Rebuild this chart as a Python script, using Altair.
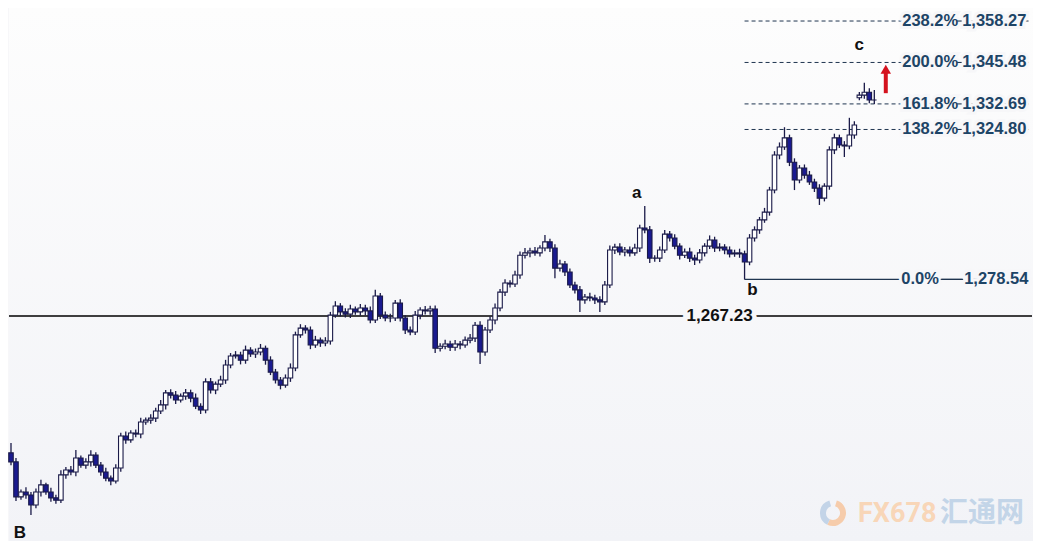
import altair as alt
import pandas as pd

# ---------------- data ----------------
closes = [
    1222.2, 1211.4, 1212.9, 1212.0, 1208.9, 1212.9, 1215.1, 1212.9, 1211.1, 1210.4,
    1218.2, 1219.7, 1219.1, 1223.4, 1221.2, 1222.2, 1224.3, 1221.2, 1219.1, 1217.2,
    1216.3, 1220.3, 1230.2, 1229.0, 1231.1, 1230.8, 1234.5, 1235.1, 1235.7, 1237.9,
    1239.8, 1243.5, 1242.8, 1241.3, 1242.5, 1243.5, 1241.9, 1239.4, 1238.2, 1246.9,
    1244.4, 1246.2, 1247.5, 1252.1, 1254.9, 1255.2, 1253.6, 1256.7, 1255.5, 1256.1,
    1257.3, 1253.6, 1249.9, 1247.5, 1245.9, 1248.1, 1251.2, 1261.4, 1263.5, 1262.9,
    1258.3, 1259.8, 1258.9, 1259.5, 1267.5, 1270.3, 1268.5, 1267.8, 1269.4, 1268.5,
    1269.7, 1268.8, 1266.0, 1273.4, 1267.5, 1266.6, 1266.6, 1271.2, 1266.6, 1262.9,
    1262.3, 1267.5, 1269.1, 1268.8, 1269.4, 1257.3, 1257.9, 1258.6, 1257.6, 1258.6,
    1258.3, 1259.8, 1260.4, 1264.4, 1256.1, 1262.9, 1266.0, 1269.7, 1274.6, 1277.4,
    1277.1, 1279.9, 1286.0, 1286.7, 1287.3, 1286.7, 1288.2, 1290.1, 1288.2, 1282.0,
    1283.3, 1280.8, 1276.8, 1275.3, 1272.2, 1273.1, 1272.8, 1272.2, 1271.6, 1276.8,
    1287.6, 1288.5, 1287.0, 1287.6, 1286.7, 1288.2, 1294.4, 1293.8, 1285.1, 1285.1,
    1287.6, 1292.5, 1291.3, 1288.8, 1286.0, 1287.0, 1285.1, 1284.5, 1286.7, 1288.8,
    1290.7, 1288.2, 1288.5, 1287.6, 1286.4, 1286.7, 1286.4, 1283.9, 1291.3, 1293.8,
    1296.9, 1299.3, 1306.1, 1316.9, 1319.4, 1322.2, 1314.7, 1309.2, 1312.9, 1310.7,
    1308.6, 1306.7, 1303.6, 1307.3, 1318.5, 1322.2, 1320.0, 1319.7, 1323.1, 1326.2,
    1335.4, 1336.3, 1333.9, 1333.9,
]
hi_ext = [
    3.0, 1.2, 0.8, 1.5, 0.9, 1.1, 1.6, 0.7, 1.3, 1.0,
    1.4, 0.9, 1.2, 2.5, 0.8, 1.1, 1.5, 0.9, 1.0, 1.3,
    0.8, 1.2, 1.0, 1.4, 0.9, 1.1, 1.3, 0.8, 1.2, 1.0,
    1.5, 0.9, 1.1, 1.3, 0.8, 1.2, 1.0, 1.4, 0.9, 1.1,
    1.2, 0.8, 1.3, 1.6, 0.9, 1.2, 1.0, 1.4, 0.9, 1.1,
    1.3, 0.8, 1.2, 1.0, 0.9, 1.1, 1.4, 1.0, 1.2, 0.9,
    1.1, 1.3, 0.8, 1.2, 1.0, 1.5, 0.9, 1.1, 1.3, 0.8,
    1.2, 1.0, 1.4, 1.9, 0.9, 1.1, 1.3, 1.0, 1.2, 0.9,
    1.1, 1.3, 0.8, 1.2, 1.0, 1.1, 0.9, 1.3, 1.0, 1.2,
    0.9, 1.1, 1.3, 1.0, 1.2, 0.9, 1.1, 1.4, 1.0, 1.2,
    0.9, 1.3, 1.1, 1.5, 1.0, 1.2, 0.9, 2.1, 1.0, 1.2,
    1.3, 0.9, 1.1, 1.0, 1.2, 0.9, 1.3, 1.0, 1.1, 1.2,
    1.4, 1.0, 1.2, 0.9, 1.1, 1.3, 1.0, 6.8, 1.2, 0.9,
    1.1, 1.3, 1.0, 1.2, 0.9, 1.1, 1.3, 1.0, 1.2, 0.9,
    1.4, 1.0, 1.2, 0.9, 1.1, 1.0, 1.3, 1.0, 1.2, 1.1,
    0.9, 1.3, 1.0, 1.2, 1.4, 3.3, 1.0, 1.2, 0.9, 1.1,
    1.3, 1.0, 1.2, 0.9, 1.1, 1.3, 1.0, 1.2, 5.3, 1.1,
    1.0, 2.9, 1.2, 3.1,
]
lo_ext = [
    1.0, 1.3, 0.9, 1.2, 3.1, 1.0, 1.4, 0.8, 1.2, 1.1,
    0.9, 1.2, 1.0, 1.3, 0.8, 1.1, 1.4, 0.9, 1.2, 1.0,
    1.3, 0.8, 1.1, 1.2, 0.9, 1.0, 1.3, 0.8, 1.1, 1.2,
    0.9, 1.4, 1.0, 1.2, 0.8, 1.1, 1.3, 0.9, 1.2, 1.0,
    1.1, 1.3, 0.9, 1.2, 1.0, 0.8, 1.3, 1.1, 0.9, 1.2,
    1.0, 1.4, 0.9, 1.1, 1.3, 0.8, 1.2, 1.0, 0.9, 1.1,
    1.3, 0.9, 1.2, 1.0, 1.1, 0.8, 1.4, 1.0, 1.2, 0.9,
    1.1, 1.3, 1.0, 0.9, 1.2, 1.0, 1.3, 0.9, 1.1, 1.2,
    1.0, 0.9, 1.3, 1.1, 1.2, 1.5, 1.0, 0.9, 1.2, 1.1,
    1.3, 0.9, 1.0, 1.2, 3.7, 1.1, 0.9, 1.3, 1.0, 1.2,
    1.1, 0.9, 1.2, 1.0, 1.3, 0.9, 1.1, 1.0, 1.2, 3.1,
    1.0, 1.2, 0.9, 1.1, 3.7, 1.2, 1.0, 1.3, 3.1, 1.0,
    0.9, 1.2, 1.0, 1.3, 1.1, 0.9, 1.2, 1.0, 1.5, 1.1,
    1.2, 0.9, 1.1, 1.0, 1.3, 0.9, 1.2, 1.5, 1.0, 1.1,
    0.9, 1.2, 1.0, 1.3, 1.1, 0.9, 1.2, 5.4, 1.0, 1.1,
    1.2, 0.9, 1.1, 1.0, 1.3, 0.9, 1.2, 3.1, 1.0, 1.1,
    0.9, 1.2, 2.1, 1.0, 1.1, 1.3, 0.9, 3.4, 1.0, 1.2,
    0.8, 1.1, 1.0, 1.2,
]
first_open = 1225.0
gap_opens = {170: 1334.6}   # weekend gap before wave c

fib_levels = ["238.2%", "200.0%", "161.8%", "138.2%", "0.0%"]
fib_prices = [1358.27, 1345.48, 1332.69, 1324.80, 1278.54]
fib_values = ["1,358.27", "1,345.48", "1,332.69", "1,324.80", "1,278.54"]
fib_start = 147
line_end = 204
support_price = 1267.23
support_label = "1,267.23"

wave_labels = ["B", "a", "b", "c"]
wave_x = [1.8, 125.4, 148.6, 170.0]
wave_y = [1200.3, 1305.2, 1275.2, 1350.9]

# ---------------- build table ----------------
opens = [first_open] + closes[:-1]
for k, v in gap_opens.items():
    opens[k] = v
rows = []
for i, (o, c, he, le) in enumerate(zip(opens, closes, hi_ext, lo_ext)):
    rows.append({"i": i, "open": o, "close": c,
                 "high": max(o, c) + he, "low": min(o, c) - le})
bars = pd.DataFrame(rows)

W, H = 1025, 533
BG = "#f7f7f9"
xs = alt.Scale(domain=[-0.4, 204.6], nice=False, zero=False, padding=0)
ys = alt.Scale(domain=[1197.79, 1362.29], nice=False, zero=False, padding=0)
X = lambda f: alt.X(f, type="quantitative", scale=xs, axis=None)
Y = lambda f: alt.Y(f, type="quantitative", scale=ys, axis=None)

bg = alt.Chart(pd.DataFrame({"a": [0]})).mark_rect(
    color=alt.LinearGradient(gradient="linear", x1=0, y1=0, x2=0, y2=1,
                             stops=[alt.GradientStop(color="#fdfdfd", offset=0),
                                    alt.GradientStop(color="#f2f3f7", offset=1)])
).encode(x=alt.value(0), x2=alt.value(W), y=alt.value(0), y2=alt.value(H))

support = alt.Chart(pd.DataFrame({"p": [support_price], "t": [support_label], "x": [142.0]}))
support_line = support.mark_rule(color="#000000", strokeWidth=1.3).encode(y=Y("p"))
stxt = dict(font="Liberation Sans", fontSize=17, fontWeight="bold", align="center", baseline="middle")
support_halo = support.mark_text(fill=BG, stroke=BG, strokeWidth=9, **stxt).encode(
    x=X("x"), y=Y("p"), text="t:N")
support_text = support.mark_text(color="#111111", **stxt).encode(x=X("x"), y=Y("p"), text="t:N")

fib = pd.DataFrame({"lvl": fib_levels, "p": fib_prices, "v": fib_values,
                    "x0": [fib_start] * 5, "x1": [line_end] * 5,
                    "xp": [178.6, 178.6, 178.6, 178.6, 178.4],
                    "xv": [190.6, 190.6, 190.6, 190.6, 191.0],
                    "c0": [189.6, 189.6, 189.6, 189.6, 186.3],
                    "c1": [190.5, 190.5, 190.5, 190.5, 190.8]})
fibc = alt.Chart(fib)
fib_dashed = fibc.transform_filter("datum.lvl != '0.0%'").mark_rule(
    color="#1f3550", strokeWidth=1, strokeDash=[4, 3]).encode(x=X("x0"), x2="x1", y=Y("p"))
fib_solid = fibc.transform_filter("datum.lvl == '0.0%'").mark_rule(
    color="#1f3550", strokeWidth=1.2).encode(x=X("x0"), x2="x1", y=Y("p"))
fib_conn = fibc.mark_rule(color="#1f3550", strokeWidth=1.1).encode(x=X("c0"), x2="c1", y=Y("p"))
ftxt = dict(font="Liberation Sans", fontSize=16.5, fontWeight="bold", align="left", baseline="middle")
fib_halo1 = fibc.mark_text(fill=BG, stroke=BG, strokeWidth=6, **ftxt).encode(x=X("xp"), y=Y("p"), text="lvl:N")
fib_halo2 = fibc.mark_text(fill=BG, stroke=BG, strokeWidth=6, **ftxt).encode(x=X("xv"), y=Y("p"), text="v:N")
fib_t1 = fibc.mark_text(color="#1d4466", **ftxt).encode(x=X("xp"), y=Y("p"), text="lvl:N")
fib_t2 = fibc.mark_text(color="#1d4466", **ftxt).encode(x=X("xv"), y=Y("p"), text="v:N")

bc = alt.Chart(bars)
wicks = bc.mark_rule(color="#1a1a48", strokeWidth=1.3).encode(x=X("i"), y=Y("low"), y2="high")
bodies = bc.mark_bar(width=4.5, stroke="#1a1a48", strokeWidth=1.1).encode(
    x=X("i"), y=Y("open"), y2="close",
    color=alt.condition("datum.close >= datum.open", alt.value("#ffffff"), alt.value("#1a1a90")))

waves = alt.Chart(pd.DataFrame({"t": wave_labels, "x": wave_x, "y": wave_y})).mark_text(
    font="Liberation Sans", fontSize=17, fontWeight="bold", color="#111111",
    align="center", baseline="middle").encode(x=X("x"), y=Y("y"), text="t:N")

arrow_df = pd.DataFrame({"x": [175.3], "y0": [1336.0], "y1": [1342.5], "tip": [1343.4]})
ac = alt.Chart(arrow_df)
arrow_shaft = ac.mark_rule(color="#d4121e", strokeWidth=4).encode(x=X("x"), y=Y("y0"), y2="y1")
arrow_head = ac.mark_point(shape="triangle-up", filled=True, color="#d4121e", size=110, opacity=1).encode(
    x=X("x"), y=Y("tip"))

wm = alt.Chart(pd.DataFrame({"a": [0]}))
wm_logo1 = wm.mark_arc(radius=13, radius2=7, theta=0.3, theta2=3.6, color="#f6ccab").encode(
    x=alt.value(824), y=alt.value(505))
wm_logo2 = wm.mark_arc(radius=13, radius2=7, theta=3.6, theta2=6.0, color="#c3d4e8").encode(
    x=alt.value(824), y=alt.value(505))
wm_fx = wm.mark_text(text="FX678", font="Roboto", fontSize=27, fontWeight="bold",
                     color="#f8d6b8", align="left", baseline="middle").encode(
    x=alt.value(849), y=alt.value(506))
wm_cn = wm.mark_text(text="汇通网", font="Noto Sans CJK SC", fontSize=28, fontWeight="bold",
                     color="#c3d5e8", align="left", baseline="middle").encode(
    x=alt.value(931), y=alt.value(506))

chart = alt.layer(
    bg, wm_logo1, wm_logo2, wm_fx, wm_cn,
    support_line, fib_dashed, fib_solid,
    wicks, bodies,
    support_halo, support_text, fib_halo1, fib_halo2, fib_conn, fib_t1, fib_t2,
    waves, arrow_shaft, arrow_head,
).properties(
    width=W, height=H, background=BG, padding=0,
    autosize=alt.AutoSizeParams(type="fit", contains="padding"),
).configure_view(stroke=None)

chart.save("out.html", embed_options={"renderer": "svg", "actions": False})
